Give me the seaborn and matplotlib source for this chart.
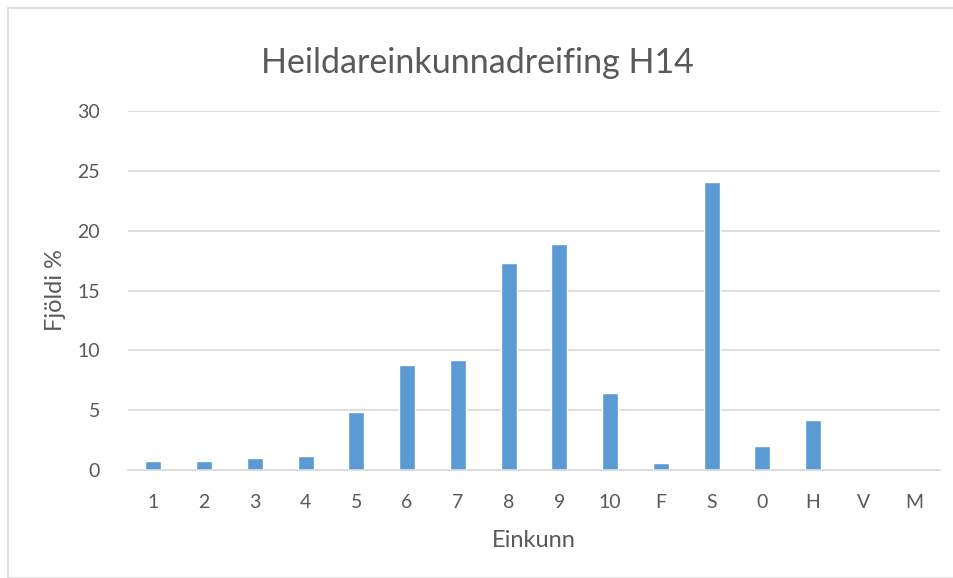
import matplotlib
matplotlib.use("Agg")
import matplotlib.pyplot as plt
import seaborn as sns
import pandas as pd
from matplotlib.patches import Rectangle

# gögn
einkunnir = ["1", "2", "3", "4", "5", "6", "7", "8", "9", "10", "F", "S", "0", "H", "V", "M"]
fjoldi = [0.73, 0.72, 0.98, 1.14, 4.88, 8.75, 9.2, 17.3, 18.9, 6.46, 0.56, 24.1, 1.99, 4.16, 0, 0]
y_ticks = [0, 5, 10, 15, 20, 25, 30]

sns.set_theme(style="white")
plt.rcParams['font.family'] = ['Lato', 'DejaVu Sans']

df = pd.DataFrame({"Einkunn": einkunnir, "Fjoldi": fjoldi})

fig = plt.figure(figsize=(9.54, 5.78), dpi=100)
ax = fig.add_axes([128/954, 1-470/578, (940-128)/954, (470-111)/578])

sns.barplot(data=df, x="Einkunn", y="Fjoldi", color="#5B9BD5", saturation=1,
            width=0.32, ax=ax, order=einkunnir)

ax.set_ylim(0, 30)
ax.set_yticks(y_ticks)
ax.set_xlim(-0.5, len(einkunnir) - 0.5)
ax.yaxis.grid(True, color="#D9D9D9", linewidth=1.2)
ax.set_axisbelow(True)
for s in ["top", "right", "left"]:
    ax.spines[s].set_visible(False)
ax.spines["bottom"].set_color("#D9D9D9")
ax.spines["bottom"].set_linewidth(1.2)
ax.tick_params(axis="both", length=0, labelsize=14, labelcolor="#595959")
ax.tick_params(axis="x", pad=17)
ax.tick_params(axis="y", pad=20)

ax.set_xlabel("Einkunn", fontsize=17, color="#595959", labelpad=14)
ax.set_ylabel("Fjöldi %", fontsize=17, color="#595959", labelpad=8)
fig.text(0.5, 1-63/578, "Heildareinkunnadreifing H14", ha="center", va="center",
         fontsize=24.5, color="#595959")

# rammi utan um myndina
fig.patches.append(Rectangle((8/954, 0), 1, 1-8/578, transform=fig.transFigure,
                             fill=False, edgecolor="#D9D9D9", linewidth=1.2))

fig.savefig("out.png", dpi=100)
